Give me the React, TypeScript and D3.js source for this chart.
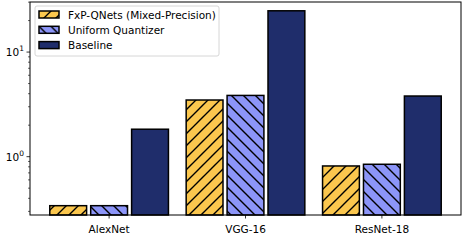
import * as d3 from 'd3';
import React from 'react';

const models = ['AlexNet', 'VGG-16', 'ResNet-18'];
const seriesNames = ['FxP-QNets (Mixed-Precision)', 'Uniform Quantizer', 'Baseline'];
const fxpValues = [0.34, 3.48, 0.815];
const uniformValues = [0.34, 3.85, 0.846];
const baselineValues = [1.83, 24.8, 3.8];
const colors = ['#FBC74E', '#8C95F8', '#1F2D6B'];
const hatches = ['fwd', 'back', null];

const W = 466;
const H = 252;
const margin = { top: 2, right: 5, bottom: 37, left: 30 };

export default function App() {
  const innerW = W - margin.left - margin.right;
  const innerH = H - margin.top - margin.bottom;
  const series = [fxpValues, uniformValues, baselineValues];

  const x = d3.scaleLinear().domain([-0.58, 2.58]).range([0, innerW]);
  const y = d3.scaleLog().domain([0.277, 30.1]).range([innerH, 0]);

  const barW = x(0.27) - x(0);
  const offsets = [-0.3, 0, 0.3];

  // minor ticks for log axis
  const minor: number[] = [];
  [0.1, 1, 10].forEach((base) => {
    for (let k = 2; k <= 9; k++) {
      const v = base * k;
      if (v >= 0.277 && v <= 30.1) minor.push(v);
    }
  });

  const fillFor = (i: number) => (hatches[i] ? `url(#hatch${i})` : colors[i]);

  return (
    <svg width={W} height={H} style={{ position: 'absolute', left: 0, top: 0, fontFamily: 'DejaVu Sans' }}>
      <defs>
        <pattern id="hatch0" patternUnits="userSpaceOnUse" width={12} height={12}>
          <rect width={12} height={12} fill={colors[0]} />
          <path d="M-3,3 L3,-3 M0,12 L12,0 M9,15 L15,9" stroke="#000" strokeWidth={1.4} />
        </pattern>
        <pattern id="hatch1" patternUnits="userSpaceOnUse" width={12} height={12}>
          <rect width={12} height={12} fill={colors[1]} />
          <path d="M-3,9 L3,15 M0,0 L12,12 M9,-3 L15,3" stroke="#000" strokeWidth={1.4} />
        </pattern>
      </defs>
      <rect width={W} height={H} fill="#fff" />
      <g transform={`translate(${margin.left},${margin.top})`}>
        {series.map((vals, si) =>
          vals.map((v, mi) => {
            const cx = x(mi + offsets[si]);
            return (
              <rect
                key={`${si}-${mi}`}
                x={cx - barW / 2}
                y={y(v)}
                width={barW}
                height={innerH - y(v)}
                fill={fillFor(si)}
                stroke="#000"
                strokeWidth={1.5}
              />
            );
          })
        )}
        {/* frame */}
        <rect x={0} y={0} width={innerW} height={innerH} fill="none" stroke="#000" strokeWidth={1} />
        {/* y ticks */}
        {[1, 10].map((v) => (
          <g key={v} transform={`translate(0,${y(v)})`}>
            <line x1={-3.5} x2={0} stroke="#000" strokeWidth={0.8} />
            <text x={-6} y={4} textAnchor="end" fontSize={10.5}>
              10
              <tspan dy={-5} fontSize={7.5}>
                {v === 1 ? '0' : '1'}
              </tspan>
            </text>
          </g>
        ))}
        {minor.map((v) => (
          <line key={v} x1={-2} x2={0} y1={y(v)} y2={y(v)} stroke="#000" strokeWidth={0.6} />
        ))}
        {/* x ticks */}
        {models.map((m, i) => (
          <g key={m} transform={`translate(${x(i)},${innerH})`}>
            <line y1={0} y2={3.5} stroke="#000" strokeWidth={0.8} />
            <text y={17.5} textAnchor="middle" fontSize={10.5}>
              {m}
            </text>
          </g>
        ))}
        {/* legend */}
        <g transform="translate(5,4)">
          <rect x={0} y={0} width={184} height={50} rx={2} fill="#fff" fillOpacity={0.8} stroke="#ccc" strokeWidth={0.8} />
          {seriesNames.map((name, i) => (
            <g key={name} transform={`translate(4,${5 + i * 15.3})`}>
              <rect x={0} y={0} width={20} height={7} fill={fillFor(i)} stroke="#000" strokeWidth={1.5} />
              <text x={29} y={7.8} fontSize={10.5}>
                {name}
              </text>
            </g>
          ))}
        </g>
      </g>
    </svg>
  );
}
